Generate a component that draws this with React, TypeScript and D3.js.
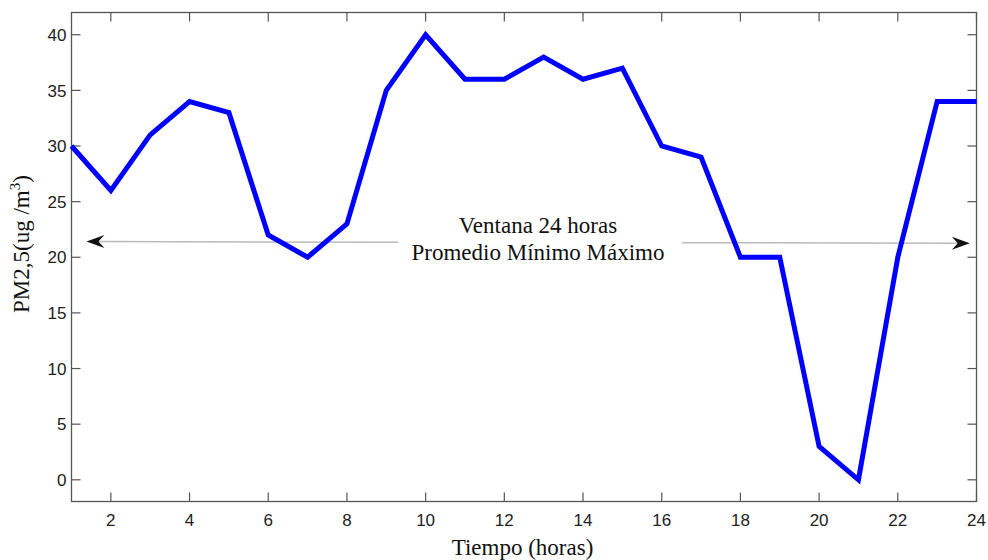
import { useEffect, useRef } from 'react';
import * as d3 from 'd3';

// Hourly PM2.5 readings (ug/m3)
const hours = [1, 2, 3, 4, 5, 6, 7, 8, 9, 10, 11, 12, 13, 14, 15, 16, 17, 18, 19, 20, 21, 22, 23, 24];
const pm25 = [30, 26, 31, 34, 33, 22, 20, 23, 35, 40, 36, 36, 38, 36, 37, 30, 29, 20, 20, 3, 0, 20, 34, 34];

const xTicks = [2, 4, 6, 8, 10, 12, 14, 16, 18, 20, 22, 24];
const yTicks = [0, 5, 10, 15, 20, 25, 30, 35, 40];

// double-headed window arrow, in data units
const arrowStart = { x: 1.38, y: 21.41 };
const arrowEnd = { x: 23.83, y: 21.27 };
const noteLines = ['Ventana 24 horas', 'Promedio Mínimo Máximo'];

export default function App() {
  const svgRef = useRef<SVGSVGElement>(null);
  const width = 988;
  const height = 560;

  useEffect(() => {
    if (!svgRef.current) return;
    const margin = { top: 12.5, right: 11.5, bottom: 58.5, left: 71.5 };
    const innerWidth = width - margin.left - margin.right;
    const innerHeight = height - margin.top - margin.bottom;

    d3.select(svgRef.current).selectAll('*').remove();
    const svg = d3.select(svgRef.current).attr('width', width).attr('height', height);
    const g = svg.append('g').attr('transform', `translate(${margin.left},${margin.top})`);

    const x = d3.scaleLinear().domain([1, 24]).range([0, innerWidth]);
    const y = d3.scaleLinear().domain([-1.95, 42]).range([innerHeight, 0]);

    const axisColor = '#555';
    const tickFont = '"Liberation Sans", Arial, sans-serif';
    const serif = '"Liberation Serif", "Times New Roman", serif';
    const tickLen = 9;

    // frame
    g.append('rect')
      .attr('width', innerWidth)
      .attr('height', innerHeight)
      .attr('fill', 'none')
      .attr('stroke', axisColor)
      .attr('stroke-width', 1.3);

    // ticks on all sides, pointing inward
    xTicks.forEach((t) => {
      g.append('line')
        .attr('x1', x(t)).attr('x2', x(t))
        .attr('y1', innerHeight).attr('y2', innerHeight - tickLen)
        .attr('stroke', axisColor).attr('stroke-width', 1.2);
      g.append('line')
        .attr('x1', x(t)).attr('x2', x(t))
        .attr('y1', 0).attr('y2', tickLen)
        .attr('stroke', axisColor).attr('stroke-width', 1.2);
      g.append('text')
        .attr('x', x(t))
        .attr('y', innerHeight + 24)
        .attr('text-anchor', 'middle')
        .style('font-family', tickFont)
        .style('font-size', '17px')
        .style('fill', '#222')
        .text(t);
    });

    yTicks.forEach((t) => {
      g.append('line')
        .attr('x1', 0).attr('x2', tickLen)
        .attr('y1', y(t)).attr('y2', y(t))
        .attr('stroke', axisColor).attr('stroke-width', 1.2);
      g.append('line')
        .attr('x1', innerWidth).attr('x2', innerWidth - tickLen)
        .attr('y1', y(t)).attr('y2', y(t))
        .attr('stroke', axisColor).attr('stroke-width', 1.2);
      g.append('text')
        .attr('x', -5)
        .attr('y', y(t))
        .attr('dy', '0.36em')
        .attr('text-anchor', 'end')
        .style('font-family', tickFont)
        .style('font-size', '17px')
        .style('fill', '#222')
        .text(t);
    });

    // arrow annotation
    const ax1 = x(arrowStart.x);
    const ay1 = y(arrowStart.y);
    const ax2 = x(arrowEnd.x);
    const ay2 = y(arrowEnd.y);
    const gapLeft = 398 - margin.left;
    const gapRight = 682 - margin.left;
    const yAt = (px: number) => ay1 + ((px - ax1) / (ax2 - ax1)) * (ay2 - ay1);

    [[ax1 + 10, gapLeft], [gapRight, ax2 - 10]].forEach(([a, b]) => {
      g.append('line')
        .attr('x1', a).attr('x2', b)
        .attr('y1', yAt(a)).attr('y2', yAt(b))
        .attr('stroke', '#bbb')
        .attr('stroke-width', 1.5);
    });

    const head = 'M0,0 L18,-6.5 L12,0 L18,6.5 Z';
    g.append('path')
      .attr('d', head)
      .attr('transform', `translate(${ax1},${ay1})`)
      .attr('fill', '#111');
    g.append('path')
      .attr('d', head)
      .attr('transform', `translate(${ax2},${ay2}) rotate(180)`)
      .attr('fill', '#111');

    const noteX = 538 - margin.left;
    noteLines.forEach((line, i) => {
      g.append('text')
        .attr('x', noteX)
        .attr('y', 232.5 - margin.top + i * 27.5)
        .attr('text-anchor', 'middle')
        .style('font-family', serif)
        .style('font-size', '23px')
        .style('fill', '#111')
        .text(line);
    });

    // data line
    const line = d3
      .line<number>()
      .x((_, i) => x(hours[i]))
      .y((d) => y(d));

    g.append('path')
      .datum(pm25)
      .attr('d', line)
      .attr('fill', 'none')
      .attr('stroke', '#0000ff')
      .attr('stroke-width', 5)
      .attr('stroke-linejoin', 'miter');

    // axis titles
    svg.append('text')
      .attr('x', 522.5)
      .attr('y', 555)
      .attr('text-anchor', 'middle')
      .style('font-family', serif)
      .style('font-size', '23px')
      .style('fill', '#111')
      .text('Tiempo (horas)');

    const yLabel = svg.append('text')
      .attr('transform', 'translate(29,244) rotate(-90)')
      .attr('text-anchor', 'middle')
      .style('font-family', serif)
      .style('font-size', '23px')
      .style('fill', '#111');
    yLabel.append('tspan').text('PM2,5(ug /m');
    yLabel.append('tspan').attr('dy', -9).style('font-size', '15px').text('3');
    yLabel.append('tspan').attr('dy', 9).text(')');
  }, []);

  return (
    <svg
      ref={svgRef}
      style={{ position: 'absolute', left: 0, top: 0, background: '#fff' }}
    ></svg>
  );
}
